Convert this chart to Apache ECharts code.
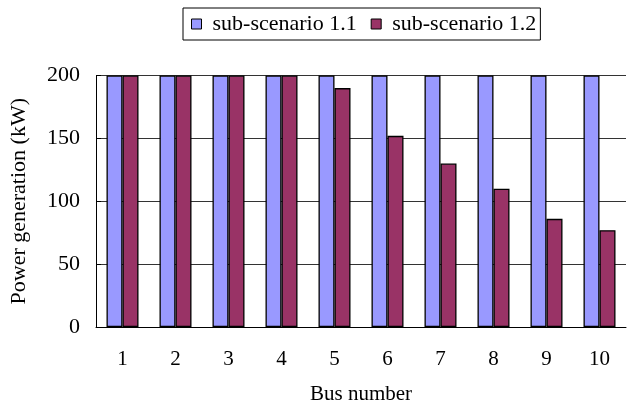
<!DOCTYPE html>
<html>
<head>
<meta charset="utf-8">
<script src="https://cdn.jsdelivr.net/npm/echarts@6/dist/echarts.min.js"></script>
<style>
html,body{margin:0;padding:0;background:#fff;}
#chart{width:627px;height:410px;}
</style>
</head>
<body>
<div id="chart"></div>
<script>
var categories = ['1','2','3','4','5','6','7','8','9','10'];
var seriesNames = ['sub-scenario 1.1','sub-scenario 1.2'];
var scenario11 = [200,200,200,200,200,200,200,200,200,200];
var scenario12 = [200,200,200,200,190,152,130,110,86,77];
var yTicks = {min:0,max:200,interval:50};

var FONT = "'Liberation Serif','Times New Roman',serif";
var chart = echarts.init(document.getElementById('chart'), null, {renderer:'canvas'});
chart.setOption({
  animation:false,
  backgroundColor:'#fff',
  textStyle:{fontFamily:FONT,color:'#000'},
  legend:{
    left:183, top:8,
    orient:'horizontal',
    padding:[5,4,5,8],
    itemGap:14,
    itemWidth:10, itemHeight:10,
    borderColor:'#000', borderWidth:1,
    textStyle:{fontFamily:FONT,fontSize:22,color:'#000',padding:[0,0,0,6]},
    data:[
      {name:seriesNames[0],icon:'rect',itemStyle:{color:'#9999FF',borderColor:'#000',borderWidth:1}},
      {name:seriesNames[1],icon:'rect',itemStyle:{color:'#993366',borderColor:'#000',borderWidth:1}}
    ]
  },
  grid:{left:94,top:75.5,right:1,bottom:80,containLabel:false},
  xAxis:{
    type:'category',
    data:categories,
    name:'Bus number',
    nameLocation:'middle',
    nameGap:57,
    nameTextStyle:{fontFamily:FONT,fontSize:21,color:'#000'},
    axisLine:{lineStyle:{color:'#000',width:1}},
    axisTick:{inside:true,length:6,lineStyle:{color:'#000'}},
    axisLabel:{fontFamily:FONT,fontSize:21,color:'#000',margin:22},
    splitLine:{show:false}
  },
  yAxis:{
    type:'value',
    min:yTicks.min,max:yTicks.max,interval:yTicks.interval,
    name:'Power generation (kW)',
    nameLocation:'middle',
    nameGap:66,
    nameTextStyle:{fontFamily:FONT,fontSize:22,color:'#000'},
    axisLine:{show:true,lineStyle:{color:'#000',width:1}},
    axisTick:{show:true,inside:true,length:5,lineStyle:{color:'#000'}},
    axisLabel:{fontFamily:FONT,fontSize:22,color:'#000',margin:16},
    splitLine:{show:true,lineStyle:{color:'#333',width:1}}
  },
  series:[
    {name:seriesNames[0],type:'bar',data:scenario11,barWidth:16,barGap:'0%',
     itemStyle:{color:'#9999FF',borderColor:'#000',borderWidth:1.3}},
    {name:seriesNames[1],type:'bar',data:scenario12,barWidth:16,barGap:'0%',
     itemStyle:{color:'#993366',borderColor:'#000',borderWidth:1.3}}
  ]
});
</script>
</body>
</html>
